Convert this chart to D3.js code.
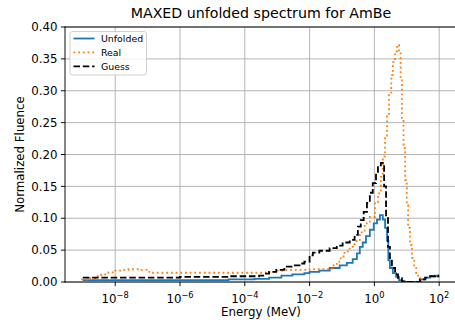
<!DOCTYPE html>
<html>
<head>
<meta charset="utf-8">
<script src="https://cdn.jsdelivr.net/npm/d3@7"></script>
<style>
  body { margin: 0; background: #fff; }
  svg text { font-family: "DejaVu Sans", sans-serif; fill: #000; }
</style>
</head>
<body>
<svg id="chart" width="455" height="320"></svg>
<script>
// values (energies as log10 of MeV)
var unfoldedLogE = [-9.0, -6.0, -4.5, -3.7, -3.25, -2.87, -2.53, -2.16, -2.0, -1.7,
  -1.38, -1.07, -0.85, -0.67, -0.54, -0.45, -0.36, -0.26, -0.14, -0.02,
  0.08, 0.17, 0.26, 0.33, 0.39, 0.43, 0.48, 0.57, 0.67, 0.76,
  0.85, 0.95, 1.41, 1.57, 1.72, 1.88, 1.97, 2.0];
var unfoldedVal = [0.003, 0.003, 0.004, 0.005, 0.007, 0.010, 0.012, 0.014, 0.016, 0.018,
  0.022, 0.026, 0.030, 0.036, 0.045, 0.055, 0.062, 0.072, 0.082, 0.092,
  0.098, 0.105, 0.098, 0.085, 0.065, 0.034, 0.022, 0.014, 0.008, 0.003,
  0.001, 0.000, 0.004, 0.007, 0.009, 0.010, 0.009, 0.009];

var realLogE = [-9.05, -8.83, -8.62, -8.43, -8.21, -8.0, -7.8, -7.59, -7.38, -7.19,
  -7.03, -6.87, -3.25, -3.03, -2.78, -2.31, -2.0, -1.38, -1.26, -1.16,
  -1.04, -0.92, -0.76, -0.61, -0.45, -0.3, -0.14, 0.02, 0.11, 0.2,
  0.26, 0.33, 0.39, 0.45, 0.52, 0.57, 0.64, 0.70, 0.76, 0.81,
  0.85, 0.90, 0.95, 1.0, 1.04, 1.10, 1.16, 1.23, 1.29, 1.35,
  1.41, 1.45];
var realVal = [0.004, 0.006, 0.009, 0.012, 0.015, 0.018, 0.019, 0.020, 0.020, 0.019,
  0.016, 0.0145, 0.016, 0.018, 0.019, 0.019, 0.020, 0.021, 0.026, 0.032,
  0.040, 0.048, 0.055, 0.064, 0.078, 0.092, 0.102, 0.125, 0.139, 0.165,
  0.197, 0.228, 0.26, 0.295, 0.325, 0.345, 0.362, 0.372, 0.36, 0.32,
  0.255, 0.21, 0.16, 0.12, 0.085, 0.058, 0.038, 0.024, 0.014, 0.006,
  0.001, 0.0];

var guessLogE = [-9.0, -6.0, -4.5, -3.56, -3.4, -3.25, -3.03, -2.78, -2.53, -2.31,
  -2.16, -2.0, -1.9, -1.7, -1.38, -1.16, -0.98, -0.76, -0.61, -0.51,
  -0.42, -0.33, -0.23, -0.14, -0.05, 0.05, 0.11, 0.2, 0.3, 0.36,
  0.42, 0.48, 0.54, 0.64, 0.73, 0.85, 0.95, 1.41, 1.57, 1.72,
  1.88, 1.97, 2.0];
var guessVal = [0.007, 0.008, 0.009, 0.010, 0.013, 0.016, 0.019, 0.024, 0.026, 0.029,
  0.032, 0.042, 0.046, 0.049, 0.053, 0.057, 0.062, 0.066, 0.074, 0.087,
  0.097, 0.110, 0.124, 0.140, 0.155, 0.170, 0.183, 0.187, 0.150, 0.102,
  0.055, 0.035, 0.022, 0.012, 0.006, 0.001, 0.000, 0.004, 0.007, 0.009,
  0.010, 0.009, 0.009];

var seriesNames = ["Unfolded", "Real", "Guess"];
var xTickExp = [-8, -6, -4, -2, 0, 2];
var yTicks = [0.00, 0.05, 0.10, 0.15, 0.20, 0.25, 0.30, 0.35, 0.40];

var svg = d3.select("#chart");
var mLeft = 65, mRight = 457, mTop = 27, mBottom = 282;

var x = d3.scaleLog().domain([Math.pow(10, -9.55), Math.pow(10, 2.55)]).range([mLeft, mRight]);
var y = d3.scaleLinear().domain([0, 0.4]).range([mBottom, mTop]);

svg.append("defs").append("clipPath").attr("id", "clip")
  .append("rect").attr("x", mLeft).attr("y", mTop)
  .attr("width", mRight - mLeft).attr("height", mBottom - mTop);

// grid
var grid = svg.append("g");
xTickExp.forEach(function(e) {
  grid.append("line")
    .attr("x1", x(Math.pow(10, e))).attr("x2", x(Math.pow(10, e)))
    .attr("y1", mTop).attr("y2", mBottom)
    .attr("stroke", "#b0b0b0").attr("stroke-width", 0.95);
});
yTicks.forEach(function(t) {
  grid.append("line")
    .attr("x1", mLeft).attr("x2", mRight)
    .attr("y1", y(t)).attr("y2", y(t))
    .attr("stroke", "#b0b0b0").attr("stroke-width", 0.95);
});

function toPoints(logE, vals) {
  return logE.map(function(e, i) { return [Math.pow(10, e), vals[i]]; });
}

var line = d3.line()
  .x(function(d) { return x(d[0]); })
  .y(function(d) { return y(d[1]); })
  .curve(d3.curveStepAfter);

var plot = svg.append("g").attr("clip-path", "url(#clip)");

plot.append("path").datum(toPoints(unfoldedLogE, unfoldedVal))
  .attr("d", line).attr("fill", "none")
  .attr("stroke", "#1f77b4").attr("stroke-width", 1.8);

plot.append("path").datum(toPoints(realLogE, realVal))
  .attr("d", line).attr("fill", "none")
  .attr("stroke", "#ff7f0e").attr("stroke-width", 1.8)
  .attr("stroke-dasharray", "1.8,2.9");

plot.append("path").datum(toPoints(guessLogE, guessVal))
  .attr("d", line).attr("fill", "none")
  .attr("stroke", "#000").attr("stroke-width", 1.8)
  .attr("stroke-dasharray", "6.5,2.8");

// spines
svg.append("line").attr("x1", mLeft).attr("x2", mLeft).attr("y1", mTop).attr("y2", mBottom)
  .attr("stroke", "#000").attr("stroke-width", 0.95).attr("stroke-linecap", "square");
svg.append("line").attr("x1", mLeft).attr("x2", mRight).attr("y1", mBottom).attr("y2", mBottom)
  .attr("stroke", "#000").attr("stroke-width", 0.95).attr("stroke-linecap", "square");
svg.append("line").attr("x1", mLeft).attr("x2", mRight).attr("y1", mTop).attr("y2", mTop)
  .attr("stroke", "#000").attr("stroke-width", 0.95).attr("stroke-linecap", "square");
svg.append("line").attr("x1", mRight).attr("x2", mRight).attr("y1", mTop).attr("y2", mBottom)
  .attr("stroke", "#000").attr("stroke-width", 0.95);

// y ticks
yTicks.forEach(function(t) {
  svg.append("line").attr("x1", mLeft - 4.1).attr("x2", mLeft)
    .attr("y1", y(t)).attr("y2", y(t)).attr("stroke", "#000").attr("stroke-width", 0.95);
  svg.append("text").attr("x", mLeft - 7.5).attr("y", y(t) + 4.2)
    .attr("text-anchor", "end").style("font-size", "11.8px")
    .text(t.toFixed(2));
});

// x ticks
xTickExp.forEach(function(e) {
  var px = x(Math.pow(10, e));
  svg.append("line").attr("x1", px).attr("x2", px)
    .attr("y1", mBottom).attr("y2", mBottom + 4.1).attr("stroke", "#000").attr("stroke-width", 0.95);
  var t = svg.append("text").attr("x", px).attr("y", 303)
    .attr("text-anchor", "middle").style("font-size", "11.8px");
  t.append("tspan").text("10");
  t.append("tspan").attr("dy", -5.2).style("font-size", "8.3px")
    .text(e < 0 ? "\u2212" + (-e) : String(e));
});

// labels
svg.append("text").attr("x", (mLeft + mRight) / 2).attr("y", 316)
  .attr("text-anchor", "middle").style("font-size", "11.8px").text("Energy (MeV)");
svg.append("text").attr("transform", "translate(24," + ((mTop + mBottom) / 2) + ") rotate(-90)")
  .attr("text-anchor", "middle").style("font-size", "11.8px").text("Normalized Fluence");
svg.append("text").attr("x", (mLeft + mRight) / 2).attr("y", 18)
  .attr("text-anchor", "middle").style("font-size", "14.2px")
  .text("MAXED unfolded spectrum for AmBe");

// legend
var lg = svg.append("g");
lg.append("rect").attr("x", 70).attr("y", 31.5).attr("width", 76.5).attr("height", 43.5)
  .attr("rx", 2.5).attr("fill", "#fff").attr("fill-opacity", 0.8)
  .attr("stroke", "#cccccc").attr("stroke-width", 0.95);
var lgStyles = [
  { color: "#1f77b4", dash: null },
  { color: "#ff7f0e", dash: "1.8,2.9" },
  { color: "#000", dash: "6.5,2.8" }
];
seriesNames.forEach(function(name, i) {
  var ry = 38.5 + i * 13.9;
  var l = lg.append("line").attr("x1", 73.5).attr("x2", 94.5)
    .attr("y1", ry).attr("y2", ry)
    .attr("stroke", lgStyles[i].color).attr("stroke-width", 1.8);
  if (lgStyles[i].dash) l.attr("stroke-dasharray", lgStyles[i].dash);
  lg.append("text").attr("x", 101).attr("y", ry + 3.4)
    .style("font-size", "9.4px").text(name);
});
</script>
</body>
</html>
